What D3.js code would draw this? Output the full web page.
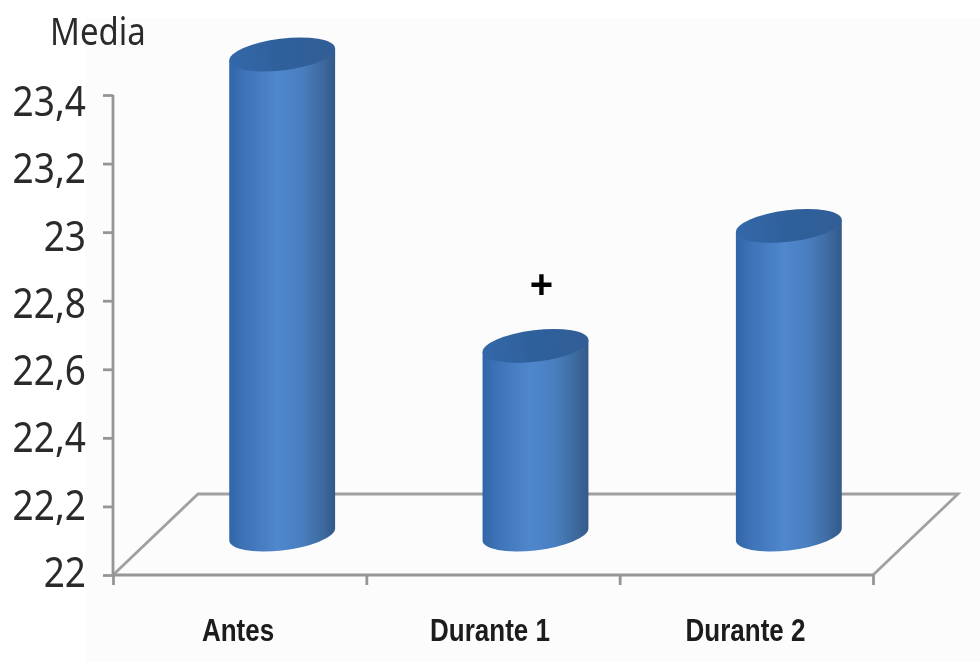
<!DOCTYPE html>
<html><head><meta charset="utf-8">
<script src="https://cdn.jsdelivr.net/npm/d3@7"></script>
<style>html,body{margin:0;padding:0;background:#fff}svg{display:block}</style>
</head><body><svg id="c" width="980" height="662"></svg>
<script>
const categories = ["Antes", "Durante 1", "Durante 2"];
const means = [23.4, 22.55, 22.9];
const yTicks = [22, 22.2, 22.4, 22.6, 22.8, 23, 23.2, 23.4];
const yTickLabels = ["22", "22,2", "22,4", "22,6", "22,8", "23", "23,2", "23,4"];
const marked = ["Durante 1"];

const svg = d3.select("#c");
const y = d3.scaleLinear().domain([22, 23.4]).range([575, 95]);
const yLabel = d3.scaleLinear().domain([22, 23.4]).range([573, 102]);
const x = d3.scaleBand().domain(categories).range([113, 873]);
const xEdges = d3.scaleLinear().domain([0, 3]).range([113, 873]);

// Depth of the chart floor
const depth = { dx: 85, dy: -81 };
const cyl = { rx: 53.3, ry: 15.8, tilt: -7 };
const rad = cyl.tilt * Math.PI / 180;
const halfW = Math.sqrt((cyl.rx * Math.cos(rad)) ** 2 + (cyl.ry * Math.sin(rad)) ** 2);
const tangentDy = (cyl.rx ** 2 - cyl.ry ** 2) * Math.sin(-rad) * Math.cos(rad) / halfW;

const defs = svg.append("defs");
const grad = defs.append("linearGradient").attr("id", "body").attr("x1", 0).attr("x2", 1).attr("y1", 0).attr("y2", 0);
[[0, "#3066a8"], [0.12, "#3c71b5"], [0.45, "#5087cd"], [0.68, "#4a7fc0"], [0.88, "#3d6a9f"], [1, "#33598a"]]
  .forEach(([o, c]) => grad.append("stop").attr("offset", o).attr("stop-color", c));
const capGrad = defs.append("linearGradient").attr("id", "cap").attr("x1", 0).attr("x2", 1).attr("y1", 0).attr("y2", 0);
[[0, "#3268a9"], [0.5, "#2f609b"], [1, "#305d96"]]
  .forEach(([o, c]) => capGrad.append("stop").attr("offset", o).attr("stop-color", c));
defs.append("filter").attr("id", "soft").append("feGaussianBlur").attr("stdDeviation", 0.7);

svg.append("rect").attr("x", 85).attr("y", 18).attr("width", 895).attr("height", 644).attr("fill", "#fcfcfc");

// Floor parallelogram
const floorY = y(22);
const g = svg.append("g").attr("filter", "url(#soft)");
g.append("path")
  .attr("d", d3.line()([
    [xEdges(0), floorY], [xEdges(0) + depth.dx, floorY + depth.dy],
    [xEdges(3) + depth.dx, floorY + depth.dy], [xEdges(3), floorY]
  ]))
  .attr("fill", "none").attr("stroke", "#a0a0a0").attr("stroke-width", 2.8);

// Axes
const yAxis = g.append("g").attr("transform", `translate(${xEdges(0)},0)`)
  .call(d3.axisLeft(y).tickValues(yTicks).tickSize(10).tickFormat(""));
const xAxis = g.append("g").attr("transform", `translate(0,${floorY})`)
  .call(d3.axisBottom(xEdges).tickValues([0, 1, 2, 3]).tickSize(10).tickFormat(""));
[yAxis, xAxis].forEach(a => {
  a.selectAll("path,line").attr("stroke", "#969696").attr("stroke-width", 2.8);
  a.select(".domain").attr("d", a === yAxis
    ? `M0,${y(23.4)}H-0V${floorY}` : `M${xEdges(0)},0H${xEdges(3)}`);
});

// Cylinders
const bars = g.selectAll("g.bar").data(categories.map((c, i) => ({ c, v: means[i] })))
  .join("g").attr("class", "bar");
const cx = d => x(d.c) + x.bandwidth() / 2 + depth.dx / 2;
const baseY = floorY + depth.dy / 2;
const topY = d => y(d.v) + depth.dy / 2;

bars.append("path")
  .attr("fill", "url(#body)")
  .attr("d", d => {
    const l = cx(d) - halfW, r = cx(d) + halfW;
    return `M${l},${topY(d) + tangentDy}L${l},${baseY + tangentDy}` +
      `A${cyl.rx},${cyl.ry} ${cyl.tilt} 0 0 ${r},${baseY - tangentDy}` +
      `L${r},${topY(d) - tangentDy}Z`;
  });
bars.append("ellipse")
  .attr("rx", cyl.rx).attr("ry", cyl.ry)
  .attr("transform", d => `translate(${cx(d)},${topY(d)}) rotate(${cyl.tilt})`)
  .attr("fill", "url(#cap)");

// Significance marker
bars.filter(d => marked.includes(d.c)).append("text")
  .attr("x", d => cx(d) + 6).attr("y", d => topY(d) - 48)
  .attr("text-anchor", "middle")
  .attr("font-family", "Liberation Sans").attr("font-weight", 700).attr("font-size", 40)
  .attr("fill", "#000").text("+");

// Text labels
const t = svg.append("g").attr("filter", "url(#soft)");
t.selectAll("text.ytick").data(yTicks).join("text").attr("class", "ytick")
  .attr("transform", d => `translate(86,${yLabel(d) + 14}) scale(1,1.12)`)
  .attr("text-anchor", "end")
  .attr("font-family", "Noto Sans").attr("font-size", 37).attr("fill", "#2a2a2a")
  .text((d, i) => yTickLabels[i]);
t.append("text").attr("transform", "translate(50,45) scale(0.97,1.14)")
  .attr("font-family", "Noto Sans").attr("font-size", 34).attr("fill", "#2a2a2a").text("Media");
t.selectAll("text.cat").data(categories).join("text").attr("class", "cat")
  .attr("transform", (d, i) => `translate(${[238, 490, 745.5][i]},641) scale(1,1.2)`)
  .attr("text-anchor", "middle")
  .attr("font-family", "Liberation Sans").attr("font-weight", 700).attr("font-size", 26)
  .attr("fill", "#1a1a1a").text(d => d);
</script></body></html>
